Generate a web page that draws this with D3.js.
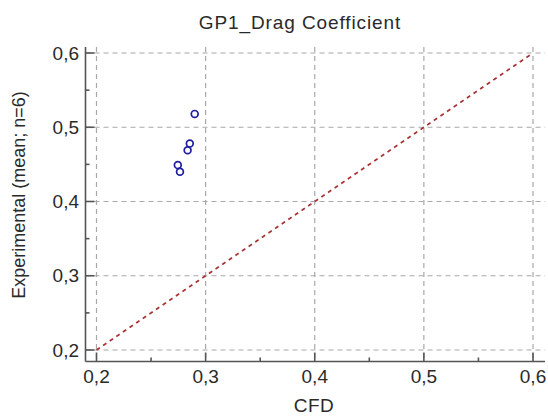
<!DOCTYPE html>
<html><head><meta charset="utf-8">
<script src="https://cdn.jsdelivr.net/npm/d3@7"></script>
<style>body{margin:0;background:#fff}svg{display:block}text{font-family:"Liberation Sans",Arial,sans-serif;fill:#2a2a2a}</style>
</head><body><div id="c"></div>
<script>
const title = "GP1_Drag Coefficient";
const xLabel = "CFD";
const yLabel = "Experimental (mean; n=6)";
const xTicks = [0.2, 0.3, 0.4, 0.5, 0.6];
const yTicks = [0.2, 0.3, 0.4, 0.5, 0.6];
const minorTicks = [0.25, 0.35, 0.45, 0.55];
const cfd = [0.290, 0.2855, 0.2835, 0.2745, 0.2765];
const experimental = [0.518, 0.478, 0.469, 0.449, 0.440];
const diagonal = [0.2, 0.6];

(function () {
const W = 548, H = 419;
const svg = d3.select("#c").append("svg").attr("width", W).attr("height", H);
const x = d3.scaleLinear().domain([0.2, 0.6]).range([96.5, 533]);
const y = d3.scaleLinear().domain([0.2, 0.6]).range([350, 53]);
const pL = 85.5, pB = 361.5, pR = 545, pT = 47;
const fmt = d => d3.format(".1f")(d).replace(".", ",");

// grid
svg.append("g").selectAll("line").data(xTicks).join("line")
  .attr("x1", d => x(d)).attr("x2", d => x(d)).attr("y1", pT).attr("y2", pB)
  .attr("stroke", "#a8a8a8").attr("stroke-width", 1.2).attr("stroke-dasharray", "5,4");
svg.append("g").selectAll("line").data(yTicks).join("line")
  .attr("y1", d => y(d)).attr("y2", d => y(d)).attr("x1", pL).attr("x2", pR)
  .attr("stroke", "#a8a8a8").attr("stroke-width", 1.2).attr("stroke-dasharray", "5,4");

// diagonal
svg.append("line")
  .attr("x1", x(diagonal[0])).attr("y1", y(diagonal[0]))
  .attr("x2", x(diagonal[1])).attr("y2", y(diagonal[1]))
  .attr("stroke", "#a83232").attr("stroke-width", 1.6).attr("stroke-dasharray", "4,4");

// axes
const ax = svg.append("g").attr("stroke", "#555").attr("stroke-width", 1.6);
ax.append("line").attr("x1", pL).attr("x2", pL).attr("y1", pT).attr("y2", pB);
ax.append("line").attr("x1", pL).attr("x2", pR).attr("y1", pB).attr("y2", pB);
ax.selectAll(".xt").data(xTicks).join("line").attr("class","xt")
  .attr("x1", d => x(d)).attr("x2", d => x(d)).attr("y1", pB).attr("y2", pB - 9);
ax.selectAll(".xm").data(minorTicks).join("line").attr("class","xm")
  .attr("x1", d => x(d)).attr("x2", d => x(d)).attr("y1", pB).attr("y2", pB - 4);
ax.selectAll(".yt").data(yTicks).join("line").attr("class","yt")
  .attr("y1", d => y(d)).attr("y2", d => y(d)).attr("x1", pL).attr("x2", pL + 9);
ax.selectAll(".ym").data(minorTicks).join("line").attr("class","ym")
  .attr("y1", d => y(d)).attr("y2", d => y(d)).attr("x1", pL).attr("x2", pL + 4);

// tick labels
svg.append("g").selectAll("text").data(xTicks).join("text")
  .attr("x", d => x(d)).attr("y", 383).attr("text-anchor", "middle")
  .style("font-size", "19px").text(fmt);
svg.append("g").selectAll("text").data(yTicks).join("text")
  .attr("x", 79).attr("y", d => y(d) + 6.5).attr("text-anchor", "end")
  .style("font-size", "19px").text(fmt);

// points
svg.append("g").selectAll("circle").data(cfd).join("circle")
  .attr("cx", d => x(d)).attr("cy", (d, i) => y(experimental[i])).attr("r", 3.4)
  .attr("fill", "none").attr("stroke", "#1e1ea0").attr("stroke-width", 1.7);

// titles
svg.append("text").attr("x", 300).attr("y", 29).attr("text-anchor", "middle")
  .style("font-size", "19px").style("letter-spacing", "0.9px").text(title);
svg.append("text").attr("x", 314).attr("y", 412).attr("text-anchor", "middle")
  .style("font-size", "19px").style("letter-spacing", "0.5px").text(xLabel);
svg.append("text").attr("transform", "translate(25,195) rotate(-90)").attr("text-anchor", "middle")
  .style("font-size", "18px").text(yLabel);
})();
</script></body></html>
